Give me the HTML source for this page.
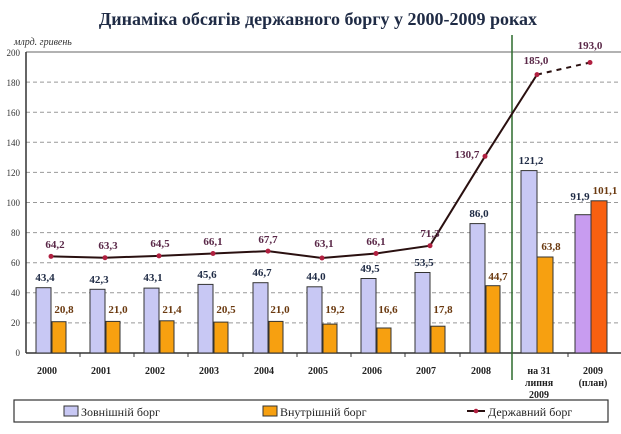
<!DOCTYPE html>
<html><head><meta charset="utf-8"><style>
body{margin:0;background:#fff;}
svg text{font-family:"Liberation Serif",serif;}
</style></head><body>
<svg width="621" height="429" viewBox="0 0 621 429" xmlns="http://www.w3.org/2000/svg">
<rect width="621" height="429" fill="#fff"/>
<text x="318" y="25" text-anchor="middle" font-size="18" font-weight="bold" fill="#1f2b45">Динаміка обсягів державного боргу  у 2000-2009 роках</text>
<text x="14" y="45" font-size="10" font-style="italic" fill="#333">млрд. гривень</text>
<g stroke="#999" stroke-dasharray="4,3" stroke-width="1">
<line x1="26" x2="621" y1="322.9" y2="322.9"/><line x1="26" x2="621" y1="292.8" y2="292.8"/>
<line x1="26" x2="621" y1="262.7" y2="262.7"/><line x1="26" x2="621" y1="232.6" y2="232.6"/>
<line x1="26" x2="621" y1="202.5" y2="202.5"/><line x1="26" x2="621" y1="172.4" y2="172.4"/>
<line x1="26" x2="621" y1="142.3" y2="142.3"/><line x1="26" x2="621" y1="112.2" y2="112.2"/>
<line x1="26" x2="621" y1="82.1" y2="82.1"/>
</g>
<line x1="26" x2="621" y1="52" y2="52" stroke="#999" stroke-width="1.5"/>
<g font-size="9" fill="#333" text-anchor="end">
<text x="20" y="356">0</text><text x="20" y="326">20</text><text x="20" y="296">40</text><text x="20" y="266">60</text><text x="20" y="236">80</text><text x="20" y="206">100</text><text x="20" y="176">120</text><text x="20" y="146">140</text><text x="20" y="116">160</text><text x="20" y="86">180</text><text x="20" y="56">200</text>
</g>
<line x1="26" x2="26" y1="52" y2="353" stroke="#333" stroke-width="1.5"/>
<line x1="26" x2="621" y1="353" y2="353" stroke="#333" stroke-width="1.5"/>
<g stroke="#333"><line x1="80" x2="80" y1="353" y2="357"/><line x1="134" x2="134" y1="353" y2="357"/><line x1="188" x2="188" y1="353" y2="357"/><line x1="243" x2="243" y1="353" y2="357"/><line x1="297" x2="297" y1="353" y2="357"/><line x1="351" x2="351" y1="353" y2="357"/><line x1="405" x2="405" y1="353" y2="357"/><line x1="460" x2="460" y1="353" y2="357"/><line x1="568" x2="568" y1="353" y2="357"/></g>
<line x1="512" x2="512" y1="35" y2="380" stroke="#2d6b2d" stroke-width="1.5"/>
<g stroke="#333" stroke-width="1">
<rect x="36" y="287.7" width="15" height="65.3" fill="#c8c8f4"/><rect x="52" y="321.7" width="14" height="31.3" fill="#f7a010"/>
<rect x="90" y="289.3" width="15" height="63.7" fill="#c8c8f4"/><rect x="106" y="321.4" width="14" height="31.6" fill="#f7a010"/>
<rect x="144" y="288.1" width="15" height="64.9" fill="#c8c8f4"/><rect x="160" y="320.8" width="14" height="32.2" fill="#f7a010"/>
<rect x="198" y="284.4" width="15" height="68.6" fill="#c8c8f4"/><rect x="214" y="322.1" width="14" height="30.9" fill="#f7a010"/>
<rect x="253" y="282.7" width="15" height="70.3" fill="#c8c8f4"/><rect x="269" y="321.4" width="14" height="31.6" fill="#f7a010"/>
<rect x="307" y="286.8" width="15" height="66.2" fill="#c8c8f4"/><rect x="323" y="324.1" width="14" height="28.9" fill="#f7a010"/>
<rect x="361" y="278.5" width="15" height="74.5" fill="#c8c8f4"/><rect x="377" y="328" width="14" height="25" fill="#f7a010"/>
<rect x="415" y="272.5" width="15" height="80.5" fill="#c8c8f4"/><rect x="431" y="326.2" width="14" height="26.8" fill="#f7a010"/>
<rect x="470" y="223.6" width="15" height="129.4" fill="#c8c8f4"/><rect x="486" y="285.7" width="14" height="67.3" fill="#f7a010"/>
<rect x="521" y="170.6" width="16" height="182.4" fill="#c8c8f4"/><rect x="537" y="257" width="16" height="96" fill="#f7a010"/>
<rect x="575" y="214.7" width="16" height="138.3" fill="#c89cf0"/><rect x="591" y="200.8" width="16" height="152.2" fill="#f86010"/>
</g>
<polyline fill="none" stroke="#2a1010" stroke-width="2" points="51,256.4 105,257.7 159,255.9 213,253.5 268,251.1 322,258 376,253.5 430,245.7 485,156.3 537,74.6"/>
<line x1="537" y1="74.6" x2="590" y2="62.5" stroke="#2a1010" stroke-width="2" stroke-dasharray="5,5"/>
<g fill="#b02040">
<circle cx="51" cy="256.4" r="2.5"/><circle cx="105" cy="257.7" r="2.5"/><circle cx="159" cy="255.9" r="2.5"/><circle cx="213" cy="253.5" r="2.5"/><circle cx="268" cy="251.1" r="2.5"/><circle cx="322" cy="258" r="2.5"/><circle cx="376" cy="253.5" r="2.5"/><circle cx="430" cy="245.7" r="2.5"/><circle cx="485" cy="156.3" r="2.5"/><circle cx="537" cy="74.6" r="2.5"/><circle cx="590" cy="62.5" r="2.5"/>
</g>
<g font-size="11" font-weight="bold" text-anchor="middle">
<g fill="#5a2848">
<text x="55" y="248">64,2</text><text x="108" y="249">63,3</text><text x="160" y="247">64,5</text><text x="213" y="245">66,1</text><text x="268" y="243">67,7</text><text x="324" y="247">63,1</text><text x="376" y="245">66,1</text><text x="430" y="237">71,3</text><text x="467" y="158">130,7</text><text x="536" y="64">185,0</text><text x="590" y="49">193,0</text>
</g>
<g fill="#1f2b45">
<text x="45" y="281">43,4</text><text x="99" y="283">42,3</text><text x="153" y="281">43,1</text><text x="207" y="278">45,6</text><text x="262" y="276">46,7</text><text x="316" y="280">44,0</text><text x="370" y="272">49,5</text><text x="424" y="266">53,5</text><text x="479" y="217">86,0</text><text x="531" y="164">121,2</text><text x="580" y="200">91,9</text>
</g>
<g fill="#6b3a10">
<text x="64" y="313">20,8</text><text x="118" y="313">21,0</text><text x="172" y="313">21,4</text><text x="226" y="313">20,5</text><text x="280" y="313">21,0</text><text x="335" y="313">19,2</text><text x="388" y="313">16,6</text><text x="443" y="313">17,8</text><text x="498" y="280">44,7</text><text x="551" y="250">63,8</text><text x="605" y="194">101,1</text>
</g>
</g>
<g font-size="10" font-weight="bold" fill="#222" text-anchor="middle">
<text x="47" y="374">2000</text><text x="101" y="374">2001</text><text x="155" y="374">2002</text><text x="209" y="374">2003</text><text x="264" y="374">2004</text><text x="318" y="374">2005</text><text x="372" y="374">2006</text><text x="426" y="374">2007</text><text x="481" y="374">2008</text>
<text x="539" y="374">на 31</text><text x="539" y="386">липня</text><text x="539" y="398">2009</text>
<text x="593" y="374">2009</text><text x="593" y="386">(план)</text>
</g>
<rect x="14" y="400" width="594" height="22" fill="#fff" stroke="#333" stroke-width="1.2"/>
<rect x="64" y="406" width="14" height="10" fill="#c8c8f4" stroke="#333"/>
<text x="81" y="416" font-size="12" fill="#222">Зовнішній борг</text>
<rect x="263" y="406" width="14" height="10" fill="#f7a010" stroke="#333"/>
<text x="280" y="416" font-size="12" fill="#222">Внутрішній борг</text>
<line x1="467" x2="485" y1="411" y2="411" stroke="#2a1010" stroke-width="2"/><circle cx="476" cy="411" r="2.3" fill="#b02040"/>
<text x="488" y="416" font-size="12" fill="#222">Державний борг</text>
</svg>
</body></html>
